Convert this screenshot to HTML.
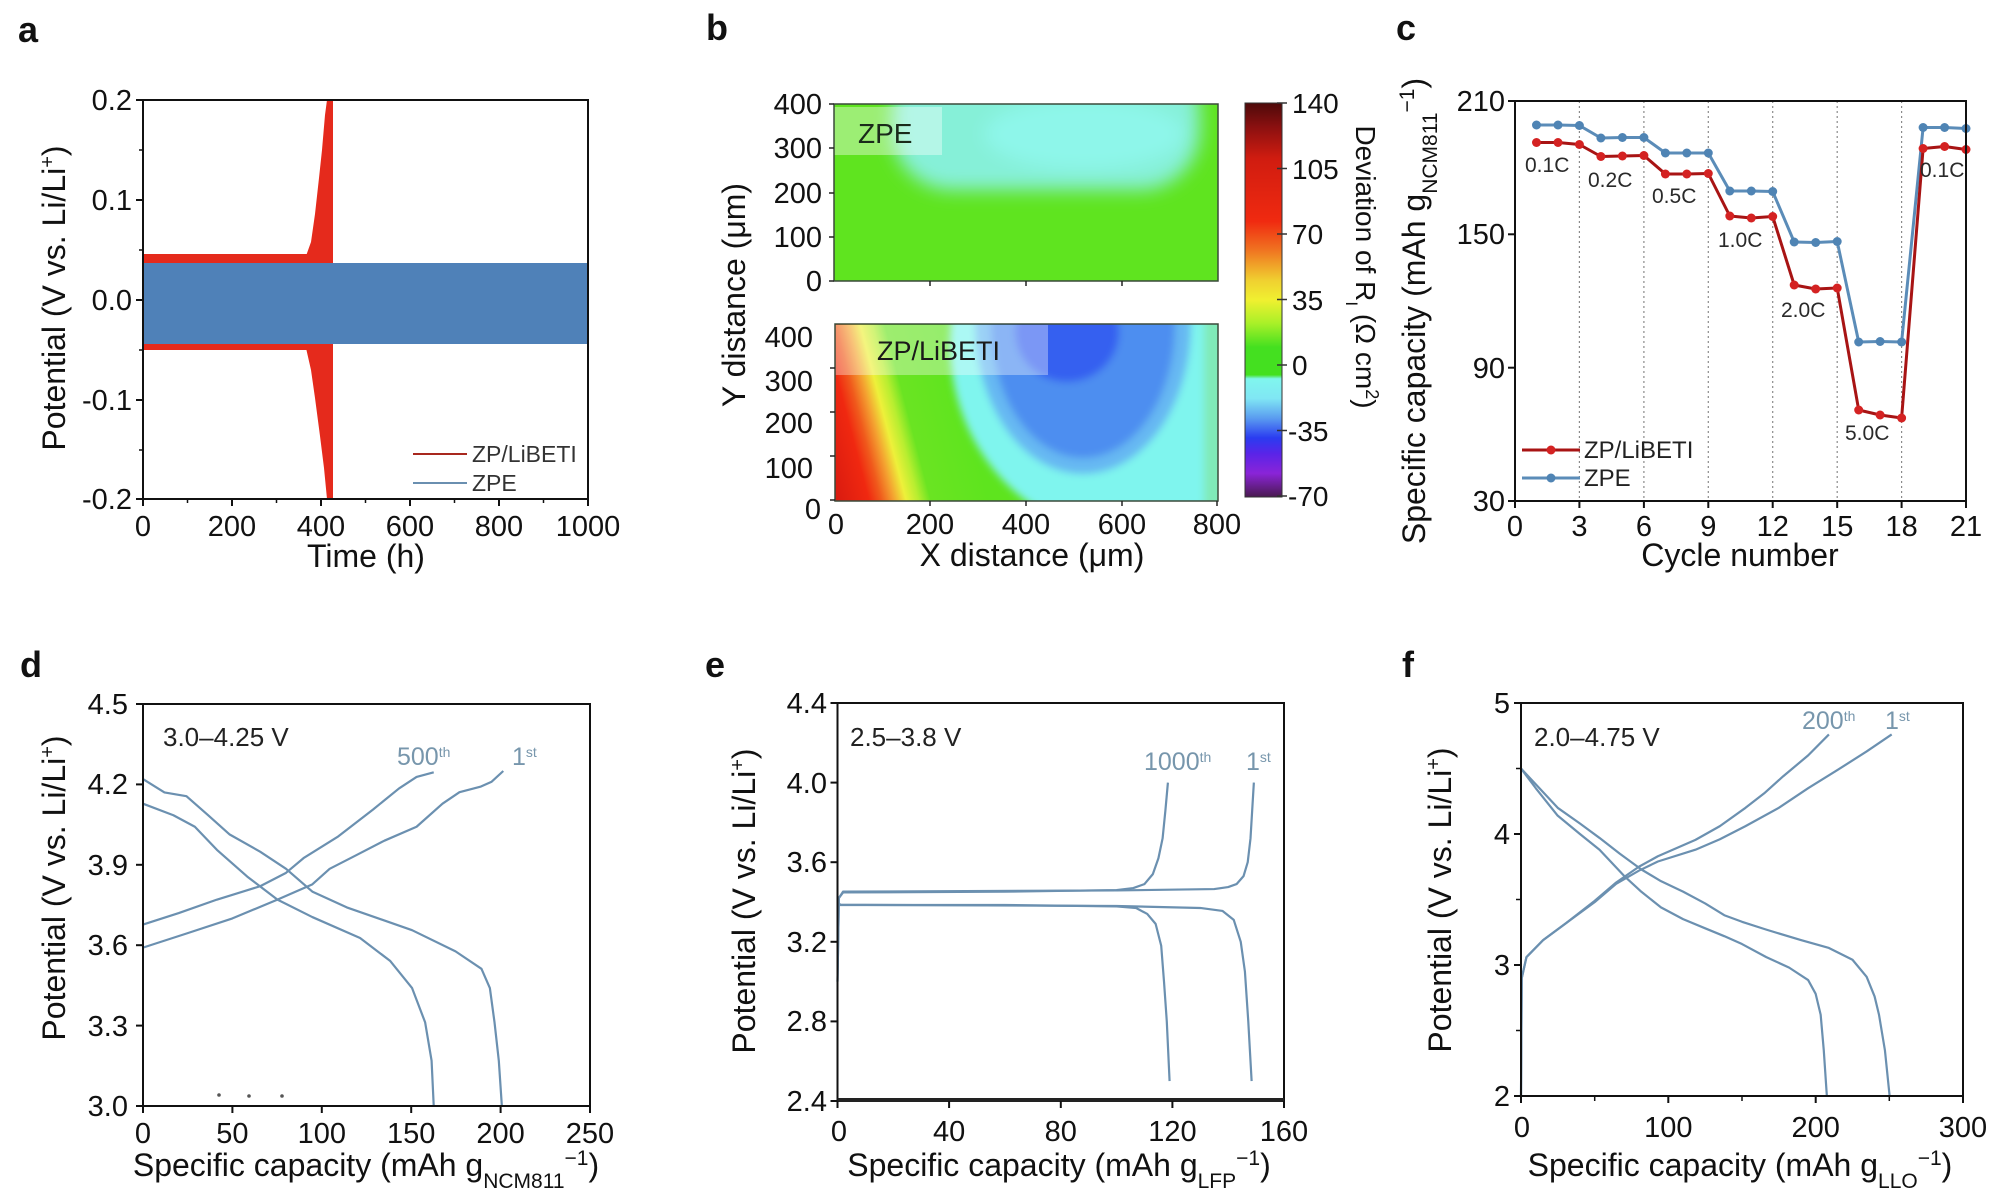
<!DOCTYPE html>
<html><head><meta charset="utf-8"><style>html,body{margin:0;padding:0;background:#fff}svg{display:block}</style></head>
<body>
<svg width="2000" height="1202" viewBox="0 0 2000 1202" xmlns="http://www.w3.org/2000/svg" font-family="'Liberation Sans', Arial, sans-serif" fill="#111">
<defs>
  <filter id="bl" x="-30%" y="-30%" width="160%" height="160%"><feGaussianBlur stdDeviation="9"/></filter>
  <filter id="bl2" x="-30%" y="-30%" width="160%" height="160%"><feGaussianBlur stdDeviation="4"/></filter>
  <linearGradient id="diag" gradientUnits="userSpaceOnUse" x1="0" y1="177" x2="145" y2="139">
    <stop offset="0" stop-color="#d81a10"/>
    <stop offset="0.22" stop-color="#f02810"/>
    <stop offset="0.30" stop-color="#f05a1c"/>
    <stop offset="0.38" stop-color="#f4a030"/>
    <stop offset="0.46" stop-color="#eef03a"/>
    <stop offset="0.54" stop-color="#b8ee30"/>
    <stop offset="0.62" stop-color="#6ae422"/>
    <stop offset="1" stop-color="#5ee41e"/>
  </linearGradient>
  <linearGradient id="cbar" x1="0" y1="0" x2="0" y2="1">
    <stop offset="0" stop-color="#4e0a0a"/>
    <stop offset="0.06" stop-color="#8a1010"/>
    <stop offset="0.14" stop-color="#d01c10"/>
    <stop offset="0.30" stop-color="#f02a10"/>
    <stop offset="0.37" stop-color="#f07020"/>
    <stop offset="0.45" stop-color="#f0d030"/>
    <stop offset="0.50" stop-color="#f0f030"/>
    <stop offset="0.56" stop-color="#a8f028"/>
    <stop offset="0.62" stop-color="#44e020"/>
    <stop offset="0.69" stop-color="#44e020"/>
    <stop offset="0.70" stop-color="#80f6ee"/>
    <stop offset="0.75" stop-color="#80e6f4"/>
    <stop offset="0.80" stop-color="#5a9cf0"/>
    <stop offset="0.85" stop-color="#2a3cf0"/>
    <stop offset="0.89" stop-color="#5a24e8"/>
    <stop offset="0.94" stop-color="#8a24d8"/>
    <stop offset="1" stop-color="#4a1a50"/>
  </linearGradient>
</defs>

<!-- ================= Panel a ================= -->
<text x="18" y="42" font-size="36" font-weight="bold">a</text>
<rect x="143" y="254" width="190" height="10" fill="#e52a1c"/>
<rect x="143" y="341" width="190" height="9" fill="#e52a1c"/>
<polygon points="306,256 311,242 315,214 319,178 322,150 325,115 327,100 333,100 333,264 306,264" fill="#e52a1c"/>
<polygon points="306,348 311,370 315,398 320,436 324,468 327,499 333,499 333,342 306,342" fill="#e52a1c"/>
<rect x="143" y="263" width="445" height="81" fill="#4f81b8"/>
<rect x="143" y="100" width="445" height="399" fill="none" stroke="#111" stroke-width="2"/>
<g stroke="#111" stroke-width="2">
  <line x1="143" y1="499" x2="143" y2="506"/><line x1="232" y1="499" x2="232" y2="506"/><line x1="321" y1="499" x2="321" y2="506"/><line x1="410" y1="499" x2="410" y2="506"/><line x1="499" y1="499" x2="499" y2="506"/><line x1="588" y1="499" x2="588" y2="506"/>
  <line x1="136" y1="100" x2="143" y2="100"/><line x1="136" y1="200" x2="143" y2="200"/><line x1="136" y1="300" x2="143" y2="300"/><line x1="136" y1="400" x2="143" y2="400"/><line x1="136" y1="499" x2="143" y2="499"/>
</g>
<g stroke="#111" stroke-width="1.5">
  <line x1="187.5" y1="499" x2="187.5" y2="503"/><line x1="276.5" y1="499" x2="276.5" y2="503"/><line x1="365.5" y1="499" x2="365.5" y2="503"/><line x1="454.5" y1="499" x2="454.5" y2="503"/><line x1="543.5" y1="499" x2="543.5" y2="503"/>
  <line x1="139" y1="150" x2="143" y2="150"/><line x1="139" y1="250" x2="143" y2="250"/><line x1="139" y1="350" x2="143" y2="350"/><line x1="139" y1="450" x2="143" y2="450"/>
</g>
<g font-size="29" text-anchor="end">
  <text x="132" y="110">0.2</text><text x="132" y="210">0.1</text><text x="132" y="310">0.0</text><text x="132" y="410">-0.1</text><text x="132" y="509">-0.2</text>
</g>
<g font-size="29" text-anchor="middle">
  <text x="143" y="536">0</text><text x="232" y="536">200</text><text x="321" y="536">400</text><text x="410" y="536">600</text><text x="499" y="536">800</text><text x="588" y="536">1000</text>
</g>
<text x="366" y="567" font-size="32" text-anchor="middle">Time (h)</text>
<text transform="translate(65,298) rotate(-90)" font-size="32" text-anchor="middle">Potential (V vs. Li/Li<tspan baseline-shift="super" font-size="20">+</tspan>)</text>
<line x1="413" y1="454" x2="467" y2="454" stroke="#a8281e" stroke-width="2"/>
<line x1="413" y1="483" x2="467" y2="483" stroke="#6a8fb0" stroke-width="2"/>
<text x="472" y="462" font-size="23" fill="#333">ZP/LiBETI</text>
<text x="472" y="491" font-size="23" fill="#333">ZPE</text>

<!-- ================= Panel b ================= -->
<text x="706" y="40" font-size="36" font-weight="bold">b</text>
<svg x="834" y="104" width="384" height="177" viewBox="0 0 384 177">
  <rect width="384" height="177" fill="#5fe41f"/>
  <g filter="url(#bl)">
    <rect x="58" y="-50" width="308" height="136" rx="60" fill="#86f0d8"/>
    <ellipse cx="250" cy="30" rx="100" ry="35" fill="#8ef6ea"/>
  </g>
  <rect x="0" y="3" width="108" height="48" fill="#ffffff" fill-opacity="0.38"/>
</svg>
<rect x="834" y="104" width="384" height="177" fill="none" stroke="#3a4a3a" stroke-width="1.5"/>
<text x="858" y="143" font-size="28" fill="#1a2a1a">ZPE</text>

<svg x="835" y="324" width="383" height="177" viewBox="0 0 383 177">
  <rect width="383" height="177" fill="url(#diag)"/>
  <g filter="url(#bl2)">
    <ellipse cx="290" cy="20" rx="175" ry="190" fill="#7ff5ee"/>
    <rect x="369" y="-10" width="30" height="200" fill="#80eab8"/>
    <ellipse cx="248" cy="0" rx="108" ry="150" fill="#66b8f2"/>
    <ellipse cx="248" cy="0" rx="92" ry="134" fill="#4d8ef0"/>
    <ellipse cx="232" cy="8" rx="52" ry="50" fill="#3560f0"/>
  </g>
  <rect x="0" y="1" width="213" height="50" fill="#ffffff" fill-opacity="0.35"/>
</svg>
<rect x="835" y="324" width="383" height="177" fill="none" stroke="#3a4a3a" stroke-width="1.5"/>
<text x="877" y="360" font-size="27" fill="#1a1a1a">ZP/LiBETI</text>
<g stroke="#222" stroke-width="1.5">
  <line x1="829" y1="104" x2="834" y2="104"/><line x1="829" y1="148" x2="834" y2="148"/><line x1="829" y1="193" x2="834" y2="193"/><line x1="829" y1="237" x2="834" y2="237"/><line x1="829" y1="281" x2="834" y2="281"/>
  <line x1="830" y1="368" x2="835" y2="368"/><line x1="830" y1="412" x2="835" y2="412"/><line x1="830" y1="456" x2="835" y2="456"/><line x1="830" y1="500" x2="835" y2="500"/>
  <line x1="930" y1="281" x2="930" y2="286"/><line x1="1026" y1="281" x2="1026" y2="286"/><line x1="1122" y1="281" x2="1122" y2="286"/>
  <line x1="930" y1="501" x2="930" y2="506"/><line x1="1026" y1="501" x2="1026" y2="506"/><line x1="1122" y1="501" x2="1122" y2="506"/><line x1="1217" y1="501" x2="1217" y2="506"/>
</g>
<g font-size="29" text-anchor="end">
  <text x="822" y="114">400</text><text x="822" y="158">300</text><text x="822" y="203">200</text><text x="822" y="247">100</text><text x="822" y="291">0</text>
  <text x="813" y="347">400</text><text x="813" y="391">300</text><text x="813" y="433">200</text><text x="813" y="478">100</text><text x="821" y="519">0</text>
</g>
<g font-size="29" text-anchor="middle">
  <text x="836" y="534">0</text><text x="930" y="534">200</text><text x="1026" y="534">400</text><text x="1122" y="534">600</text><text x="1217" y="534">800</text>
</g>
<text x="1032" y="566" font-size="32" text-anchor="middle">X distance (μm)</text>
<text transform="translate(745,295) rotate(-90)" font-size="32" text-anchor="middle">Y distance (μm)</text>
<rect x="1245" y="103" width="37" height="394" fill="url(#cbar)" stroke="#333" stroke-width="1"/>
<g stroke="#333" stroke-width="1.5">
  <line x1="1277" y1="103" x2="1287" y2="103"/><line x1="1277" y1="168.5" x2="1287" y2="168.5"/><line x1="1277" y1="234" x2="1287" y2="234"/><line x1="1277" y1="299.5" x2="1287" y2="299.5"/><line x1="1277" y1="365" x2="1287" y2="365"/><line x1="1277" y1="430.5" x2="1287" y2="430.5"/><line x1="1277" y1="496" x2="1287" y2="496"/>
</g>
<g font-size="28">
  <text x="1292" y="113">140</text><text x="1292" y="179">105</text><text x="1292" y="244">70</text><text x="1292" y="310">35</text><text x="1292" y="375">0</text><text x="1288" y="441">-35</text><text x="1288" y="506">-70</text>
</g>
<text transform="translate(1356,267) rotate(90)" font-size="28" text-anchor="middle">Deviation of R<tspan baseline-shift="sub" font-size="17">I</tspan> (Ω cm<tspan baseline-shift="super" font-size="18">2</tspan>)</text>

<!-- ================= Panel c ================= -->
<text x="1396" y="40" font-size="36" font-weight="bold">c</text>
<g stroke="#8a8a8a" stroke-width="1.2" stroke-dasharray="2,3">
  <line x1="1579.4" y1="101" x2="1579.4" y2="501"/><line x1="1643.9" y1="101" x2="1643.9" y2="501"/><line x1="1708.3" y1="101" x2="1708.3" y2="501"/><line x1="1772.7" y1="101" x2="1772.7" y2="501"/><line x1="1837.2" y1="101" x2="1837.2" y2="501"/><line x1="1901.6" y1="101" x2="1901.6" y2="501"/>
</g>
<polyline fill="none" stroke="#5b8cb8" stroke-width="3" stroke-linejoin="round" points="1536.5,125 1558,125 1579.4,125.5 1600.9,138 1622.4,137.5 1643.9,137.5 1665.4,153 1686.8,153 1708.3,153 1729.8,191 1751.3,191 1772.7,191.5 1794.2,242 1815.7,242.5 1837.2,241.5 1858.7,342 1880.1,341.5 1901.6,342 1923.1,127.5 1944.6,127.5 1966,128.5"/>
<g fill="#4f84b4">
  <circle cx="1536.5" cy="125" r="4.5"/><circle cx="1558" cy="125" r="4.5"/><circle cx="1579.4" cy="125.5" r="4.5"/><circle cx="1600.9" cy="138" r="4.5"/><circle cx="1622.4" cy="137.5" r="4.5"/><circle cx="1643.9" cy="137.5" r="4.5"/><circle cx="1665.4" cy="153" r="4.5"/><circle cx="1686.8" cy="153" r="4.5"/><circle cx="1708.3" cy="153" r="4.5"/><circle cx="1729.8" cy="191" r="4.5"/><circle cx="1751.3" cy="191" r="4.5"/><circle cx="1772.7" cy="191.5" r="4.5"/><circle cx="1794.2" cy="242" r="4.5"/><circle cx="1815.7" cy="242.5" r="4.5"/><circle cx="1837.2" cy="241.5" r="4.5"/><circle cx="1858.7" cy="342" r="4.5"/><circle cx="1880.1" cy="341.5" r="4.5"/><circle cx="1901.6" cy="342" r="4.5"/><circle cx="1923.1" cy="127.5" r="4.5"/><circle cx="1944.6" cy="127.5" r="4.5"/><circle cx="1966" cy="128.5" r="4.5"/>
</g>
<polyline fill="none" stroke="#a81414" stroke-width="3" stroke-linejoin="round" points="1536.5,142.5 1558,142.5 1579.4,144.5 1600.9,156.5 1622.4,156 1643.9,155.5 1665.4,174 1686.8,174 1708.3,173.5 1729.8,216 1751.3,218 1772.7,216.5 1794.2,285 1815.7,289 1837.2,288 1858.7,410 1880.1,415 1901.6,418 1923.1,148.5 1944.6,146.5 1966,149.5"/>
<g fill="#d42222">
  <circle cx="1536.5" cy="142.5" r="4.5"/><circle cx="1558" cy="142.5" r="4.5"/><circle cx="1579.4" cy="144.5" r="4.5"/><circle cx="1600.9" cy="156.5" r="4.5"/><circle cx="1622.4" cy="156" r="4.5"/><circle cx="1643.9" cy="155.5" r="4.5"/><circle cx="1665.4" cy="174" r="4.5"/><circle cx="1686.8" cy="174" r="4.5"/><circle cx="1708.3" cy="173.5" r="4.5"/><circle cx="1729.8" cy="216" r="4.5"/><circle cx="1751.3" cy="218" r="4.5"/><circle cx="1772.7" cy="216.5" r="4.5"/><circle cx="1794.2" cy="285" r="4.5"/><circle cx="1815.7" cy="289" r="4.5"/><circle cx="1837.2" cy="288" r="4.5"/><circle cx="1858.7" cy="410" r="4.5"/><circle cx="1880.1" cy="415" r="4.5"/><circle cx="1901.6" cy="418" r="4.5"/><circle cx="1923.1" cy="148.5" r="4.5"/><circle cx="1944.6" cy="146.5" r="4.5"/><circle cx="1966" cy="149.5" r="4.5"/>
</g>
<rect x="1515" y="101" width="451" height="400" fill="none" stroke="#111" stroke-width="2"/>
<g stroke="#111" stroke-width="2">
  <line x1="1508" y1="101" x2="1515" y2="101"/><line x1="1508" y1="234.3" x2="1515" y2="234.3"/><line x1="1508" y1="367.7" x2="1515" y2="367.7"/><line x1="1508" y1="501" x2="1515" y2="501"/>
  <line x1="1515" y1="501" x2="1515" y2="508"/><line x1="1579.4" y1="501" x2="1579.4" y2="508"/><line x1="1643.9" y1="501" x2="1643.9" y2="508"/><line x1="1708.3" y1="501" x2="1708.3" y2="508"/><line x1="1772.7" y1="501" x2="1772.7" y2="508"/><line x1="1837.2" y1="501" x2="1837.2" y2="508"/><line x1="1901.6" y1="501" x2="1901.6" y2="508"/><line x1="1966" y1="501" x2="1966" y2="508"/>
</g>
<g font-size="29" text-anchor="end">
  <text x="1505" y="111">210</text><text x="1505" y="244">150</text><text x="1505" y="378">90</text><text x="1505" y="511">30</text>
</g>
<g font-size="29" text-anchor="middle">
  <text x="1515" y="536">0</text><text x="1579.4" y="536">3</text><text x="1643.9" y="536">6</text><text x="1708.3" y="536">9</text><text x="1772.7" y="536">12</text><text x="1837.2" y="536">15</text><text x="1901.6" y="536">18</text><text x="1966" y="536">21</text>
</g>
<g font-size="21" fill="#2a2a2a">
  <text x="1525" y="172">0.1C</text><text x="1588" y="187">0.2C</text><text x="1652" y="203">0.5C</text><text x="1718" y="247">1.0C</text><text x="1781" y="317">2.0C</text><text x="1845" y="440">5.0C</text><text x="1920" y="177">0.1C</text>
</g>
<text x="1740" y="566" font-size="32" text-anchor="middle">Cycle number</text>
<text transform="translate(1425,311) rotate(-90)" font-size="32" text-anchor="middle">Specific capacity (mAh g<tspan baseline-shift="sub" font-size="21">NCM811</tspan><tspan baseline-shift="super" font-size="21">−1</tspan>)</text>
<line x1="1522" y1="450" x2="1580" y2="450" stroke="#a81414" stroke-width="3"/><circle cx="1551" cy="450" r="4.5" fill="#d42222"/>
<line x1="1522" y1="478" x2="1580" y2="478" stroke="#5b8cb8" stroke-width="3"/><circle cx="1551" cy="478" r="4.5" fill="#4f84b4"/>
<text x="1584" y="458" font-size="24" fill="#222">ZP/LiBETI</text>
<text x="1584" y="486" font-size="24" fill="#222">ZPE</text>

<!-- ================= Panel d ================= -->
<text x="20" y="677" font-size="36" font-weight="bold">d</text>
<g transform="translate(143 1106) scale(1.788 -268) translate(0 -3)" fill="none" stroke="#6b90b0" stroke-width="2.2" stroke-linejoin="round">
  <path vector-effect="non-scaling-stroke" d="M0 3.591 L25 3.645 L50 3.70 L75.2 3.77 L94.7 3.827 L104.4 3.885 L119 3.935 L135 3.99 L153 4.042 L167.5 4.128 L177 4.171 L189 4.192 L195 4.21 L201.5 4.25"/>
  <path vector-effect="non-scaling-stroke" d="M0 3.677 L20 3.72 L41.3 3.77 L65.5 3.82 L80 3.87 L89.8 3.925 L109.2 4.006 L128.6 4.106 L143.2 4.185 L153 4.228 L162.6 4.245"/>
  <path vector-effect="non-scaling-stroke" d="M0 4.22 L12 4.17 L24.3 4.156 L36.4 4.085 L48.5 4.013 L65.5 3.949 L80 3.885 L94.7 3.80 L114 3.741 L150.5 3.656 L174.8 3.577 L189.3 3.512 L194 3.44 L196.6 3.312 L199 3.169 L200.7 3.0"/>
  <path vector-effect="non-scaling-stroke" d="M0 4.128 L17 4.085 L29 4.042 L41.3 3.956 L58.3 3.856 L75.2 3.77 L94.7 3.705 L121.4 3.627 L138.3 3.541 L150.5 3.44 L157.8 3.312 L161.4 3.169 L162.6 3.0"/>
</g>
<g fill="#555"><circle cx="219" cy="1095" r="1.8"/><circle cx="249" cy="1096" r="1.8"/><circle cx="282" cy="1096" r="1.8"/></g>
<rect x="143" y="704" width="447" height="402" fill="none" stroke="#111" stroke-width="2"/>
<g stroke="#111" stroke-width="2">
  <line x1="136" y1="704" x2="143" y2="704"/><line x1="136" y1="784.4" x2="143" y2="784.4"/><line x1="136" y1="864.8" x2="143" y2="864.8"/><line x1="136" y1="945.2" x2="143" y2="945.2"/><line x1="136" y1="1025.6" x2="143" y2="1025.6"/><line x1="136" y1="1106" x2="143" y2="1106"/>
  <line x1="143" y1="1106" x2="143" y2="1113"/><line x1="232.4" y1="1106" x2="232.4" y2="1113"/><line x1="321.8" y1="1106" x2="321.8" y2="1113"/><line x1="411.2" y1="1106" x2="411.2" y2="1113"/><line x1="500.6" y1="1106" x2="500.6" y2="1113"/><line x1="590" y1="1106" x2="590" y2="1113"/>
</g>
<g font-size="29" text-anchor="end">
  <text x="128" y="714">4.5</text><text x="128" y="794">4.2</text><text x="128" y="875">3.9</text><text x="128" y="955">3.6</text><text x="128" y="1036">3.3</text><text x="128" y="1116">3.0</text>
</g>
<g font-size="29" text-anchor="middle">
  <text x="143" y="1143">0</text><text x="232.4" y="1143">50</text><text x="321.8" y="1143">100</text><text x="411.2" y="1143">150</text><text x="500.6" y="1143">200</text><text x="590" y="1143">250</text>
</g>
<text x="163" y="746" font-size="26" fill="#222">3.0–4.25 V</text>
<text x="397" y="765" font-size="25" fill="#7796ac">500<tspan baseline-shift="super" font-size="14">th</tspan></text>
<text x="512" y="765" font-size="25" fill="#7796ac">1<tspan baseline-shift="super" font-size="14">st</tspan></text>
<text x="366" y="1176" font-size="32" text-anchor="middle">Specific capacity (mAh g<tspan baseline-shift="sub" font-size="21">NCM811</tspan><tspan baseline-shift="super" font-size="21">−1</tspan>)</text>
<text transform="translate(65,888) rotate(-90)" font-size="32" text-anchor="middle">Potential (V vs. Li/Li<tspan baseline-shift="super" font-size="20">+</tspan>)</text>

<!-- ================= Panel e ================= -->
<text x="705" y="677" font-size="36" font-weight="bold">e</text>
<g transform="translate(837.5 1101) scale(2.7906 -199) translate(0 -2.4)" fill="none" stroke="#6b90b0" stroke-width="2.2" stroke-linejoin="round">
  <path vector-effect="non-scaling-stroke" d="M0 3.0 L0.5 3.42 L2 3.448 L60 3.452 L100 3.46 L106 3.47 L110 3.49 L113 3.54 L115 3.62 L116.5 3.72 L117.5 3.86 L118.4 4.0"/>
  <path vector-effect="non-scaling-stroke" d="M0 3.0 L0.5 3.42 L2 3.452 L100 3.458 L135 3.465 L140 3.475 L143 3.49 L145.5 3.53 L147 3.6 L148 3.72 L148.6 3.86 L149.2 4.0"/>
  <path vector-effect="non-scaling-stroke" d="M0 3.40 L1 3.385 L60 3.385 L100 3.378 L107 3.37 L111 3.34 L114 3.29 L116 3.18 L117 3.0 L118 2.8 L119 2.5"/>
  <path vector-effect="non-scaling-stroke" d="M0 3.40 L1 3.386 L100 3.38 L130 3.37 L138 3.355 L142 3.31 L144.5 3.2 L146 3.05 L147.2 2.8 L148.4 2.5"/>
</g>
<rect x="837.5" y="703" width="446.5" height="398" fill="none" stroke="#111" stroke-width="2"/>
<line x1="837.5" y1="1100" x2="1284" y2="1100" stroke="#222" stroke-width="4"/>
<g stroke="#111" stroke-width="2">
  <line x1="830.5" y1="703" x2="837.5" y2="703"/><line x1="830.5" y1="782.6" x2="837.5" y2="782.6"/><line x1="830.5" y1="862.2" x2="837.5" y2="862.2"/><line x1="830.5" y1="941.8" x2="837.5" y2="941.8"/><line x1="830.5" y1="1021.4" x2="837.5" y2="1021.4"/><line x1="830.5" y1="1101" x2="837.5" y2="1101"/>
  <line x1="837.5" y1="1101" x2="837.5" y2="1108"/><line x1="949.1" y1="1101" x2="949.1" y2="1108"/><line x1="1060.8" y1="1101" x2="1060.8" y2="1108"/><line x1="1172.4" y1="1101" x2="1172.4" y2="1108"/><line x1="1284" y1="1101" x2="1284" y2="1108"/>
</g>
<g font-size="29" text-anchor="end">
  <text x="827" y="713">4.4</text><text x="827" y="793">4.0</text><text x="827" y="872">3.6</text><text x="827" y="952">3.2</text><text x="827" y="1031">2.8</text><text x="827" y="1111">2.4</text>
</g>
<g font-size="29" text-anchor="middle">
  <text x="839" y="1141">0</text><text x="949.1" y="1141">40</text><text x="1060.8" y="1141">80</text><text x="1172.4" y="1141">120</text><text x="1284" y="1141">160</text>
</g>
<text x="850" y="746" font-size="26" fill="#222">2.5–3.8 V</text>
<text x="1144" y="770" font-size="25" fill="#7796ac">1000<tspan baseline-shift="super" font-size="14">th</tspan></text>
<text x="1246" y="770" font-size="25" fill="#7796ac">1<tspan baseline-shift="super" font-size="14">st</tspan></text>
<text x="1059" y="1176" font-size="32" text-anchor="middle">Specific capacity (mAh g<tspan baseline-shift="sub" font-size="21">LFP</tspan><tspan baseline-shift="super" font-size="21">−1</tspan>)</text>
<text transform="translate(755,901) rotate(-90)" font-size="32" text-anchor="middle">Potential (V vs. Li/Li<tspan baseline-shift="super" font-size="20">+</tspan>)</text>

<!-- ================= Panel f ================= -->
<text x="1402" y="677" font-size="36" font-weight="bold">f</text>
<g transform="translate(1521 1096) scale(1.4733 -131) translate(0 -2)" fill="none" stroke="#6b90b0" stroke-width="2.2" stroke-linejoin="round">
  <path vector-effect="non-scaling-stroke" d="M0 2.0 L0.5 2.9 L3.7 3.06 L15 3.19 L30.6 3.32 L50 3.48 L64.6 3.62 L80 3.72 L92.9 3.79 L118.4 3.88 L135 3.96 L152.4 4.06 L175 4.2 L194.9 4.35 L215 4.49 L234.6 4.63 L251.6 4.76"/>
  <path vector-effect="non-scaling-stroke" d="M0 2.0 L0.5 2.9 L3.7 3.06 L15 3.19 L30.6 3.32 L50 3.49 L64.6 3.63 L80 3.75 L92.9 3.83 L118.4 3.955 L135 4.06 L152.4 4.20 L165 4.31 L177.9 4.44 L194.9 4.60 L209 4.76"/>
  <path vector-effect="non-scaling-stroke" d="M0 4.5 L10 4.35 L24.9 4.14 L40 4.0 L53.3 3.88 L70 3.68 L81.6 3.56 L95 3.44 L110 3.35 L125 3.28 L138 3.22 L150 3.16 L166.5 3.06 L182 2.98 L194.9 2.885 L200 2.78 L203.4 2.62 L205.5 2.35 L207.6 2.0"/>
  <path vector-effect="non-scaling-stroke" d="M0 4.5 L10 4.38 L24.9 4.20 L40 4.08 L53.3 3.97 L67 3.85 L81.6 3.73 L95 3.64 L110 3.56 L125 3.47 L138 3.38 L150 3.33 L166.5 3.27 L190 3.19 L209 3.13 L225 3.04 L234.6 2.91 L240 2.76 L243 2.62 L247 2.35 L250.2 2.0"/>
</g>
<rect x="1521" y="703" width="442" height="393" fill="none" stroke="#111" stroke-width="2"/>
<g stroke="#111" stroke-width="2">
  <line x1="1514" y1="703" x2="1521" y2="703"/><line x1="1514" y1="834" x2="1521" y2="834"/><line x1="1514" y1="965" x2="1521" y2="965"/><line x1="1514" y1="1096" x2="1521" y2="1096"/>
  <line x1="1521" y1="1096" x2="1521" y2="1103"/><line x1="1668.3" y1="1096" x2="1668.3" y2="1103"/><line x1="1815.7" y1="1096" x2="1815.7" y2="1103"/><line x1="1963" y1="1096" x2="1963" y2="1103"/>
</g>
<g stroke="#111" stroke-width="1.5">
  <line x1="1594.7" y1="1096" x2="1594.7" y2="1101"/><line x1="1742" y1="1096" x2="1742" y2="1101"/><line x1="1889.3" y1="1096" x2="1889.3" y2="1101"/>
  <line x1="1516" y1="768.5" x2="1521" y2="768.5"/><line x1="1516" y1="899.5" x2="1521" y2="899.5"/><line x1="1516" y1="1030.5" x2="1521" y2="1030.5"/>
</g>
<g font-size="29" text-anchor="end">
  <text x="1510" y="713">5</text><text x="1510" y="844">4</text><text x="1510" y="975">3</text><text x="1510" y="1106">2</text>
</g>
<g font-size="29" text-anchor="middle">
  <text x="1522" y="1137">0</text><text x="1668.3" y="1137">100</text><text x="1815.7" y="1137">200</text><text x="1963" y="1137">300</text>
</g>
<text x="1534" y="746" font-size="26" fill="#222">2.0–4.75 V</text>
<text x="1802" y="729" font-size="25" fill="#7796ac">200<tspan baseline-shift="super" font-size="14">th</tspan></text>
<text x="1885" y="729" font-size="25" fill="#7796ac">1<tspan baseline-shift="super" font-size="14">st</tspan></text>
<text x="1740" y="1176" font-size="32" text-anchor="middle">Specific capacity (mAh g<tspan baseline-shift="sub" font-size="21">LLO</tspan><tspan baseline-shift="super" font-size="21">−1</tspan>)</text>
<text transform="translate(1451,900) rotate(-90)" font-size="32" text-anchor="middle">Potential (V vs. Li/Li<tspan baseline-shift="super" font-size="20">+</tspan>)</text>
</svg>
</body></html>
